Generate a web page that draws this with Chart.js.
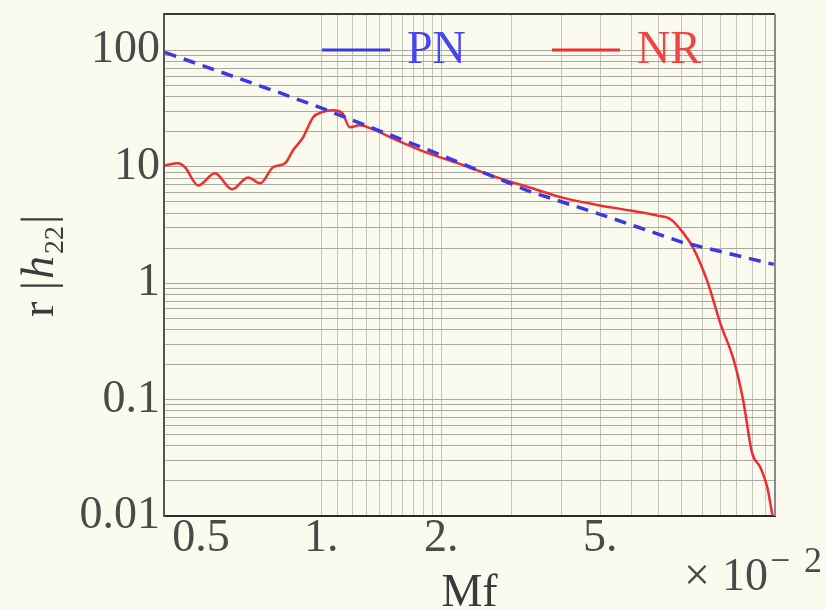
<!DOCTYPE html>
<html lang="en">
<head>
    <meta charset="UTF-8">
    <title>r |h22| vs Mf</title>
    <script src="https://cdn.jsdelivr.net/npm/chart.js"></script>
    <style>
        * {
            margin: 0;
            padding: 0;
            box-sizing: border-box;
        }

        body {
            background-color: #fbfaef;
            width: 827px;
            height: 610px;
            overflow: hidden;
        }

        #chart-container {
            position: relative;
            width: 827px;
            height: 610px;
        }
    </style>
</head>
<body>
    <div id="chart-container">
        <canvas id="ampChart"></canvas>
    </div>

    <script>
        // Mf in units of 1e-2
        const pnX = [0.406, 0.79, 1.0, 1.9, 3.3, 5.0, 8.0, 13.6];
        const pnY = [96, 43, 32, 13.5, 6.2, 3.9, 2.25, 1.45];

        const nrX = [0.406, 0.438, 0.456, 0.492, 0.542, 0.598, 0.656, 0.703, 0.758, 0.812,
                     0.851, 0.901, 0.955, 1.005, 1.07, 1.13, 1.18, 1.25, 1.33, 1.49,
                     1.77, 2.27, 2.76, 3.34, 4.04, 4.92, 5.95, 6.95, 7.5, 8.08,
                     8.55, 9.27, 10.0, 10.8, 11.4, 12.0, 12.6, 13.1, 13.5];
        const nrY = [10.3, 10.7, 9.9, 6.9, 8.8, 6.4, 8.1, 7.2, 9.9, 10.7,
                     13.9, 17.9, 26.6, 29.4, 30.5, 28.8, 21.8, 22.7, 21.4, 17.9,
                     13.9, 10.3, 8.1, 6.6, 5.4, 4.7, 4.2, 3.8, 3.54, 2.69,
                     2.0, 1.04, 0.45, 0.218, 0.099, 0.035, 0.026, 0.0177, 0.0101];

        // axis ticks / grid
        const xTickValues = [0.5, 1, 1.1, 1.2, 1.3, 1.4, 1.5, 1.6, 1.7, 1.8, 1.9, 2, 3, 4, 5, 6, 7, 8, 9, 10, 11, 12, 13];
        const xTickLabels = { '0.5': '0.5', '1': '1.', '2': '2.', '5': '5.' };
        const xNoGrid = [0.5];

        const yDecades = [0.01, 0.1, 1, 10, 100];
        const yDecadeLabels = ['0.01', '0.1', '1', '10', '100'];
        const yMinorSteps = [2, 3, 4, 5, 6, 7, 8, 9];

        const yTickValues = [];
        yDecades.forEach((d, i) => {
            yTickValues.push(d);
            if (i < yDecades.length - 1) {
                yMinorSteps.forEach(m => yTickValues.push(d * m));
            }
        });

        function yLabel(v) {
            const i = yDecades.findIndex(d => Math.abs(v - d) < d * 1e-6);
            return i >= 0 ? yDecadeLabels[i] : '';
        }

        const serif = '"Liberation Serif", "Times New Roman", serif';
        const labelColor = '#4a4a4a';

        // frame, legend and axis titles (Mathematica style)
        const decorPlugin = {
            id: 'decor',
            afterDraw(chart) {
                const { ctx, chartArea: a } = chart;
                ctx.save();

                // top and right frame
                ctx.lineWidth = 2;
                ctx.strokeStyle = '#3a3a3a';
                ctx.beginPath();
                ctx.moveTo(a.left, a.top);
                ctx.lineTo(a.right, a.top);
                ctx.stroke();
                ctx.strokeStyle = '#8a8a8a';
                ctx.beginPath();
                ctx.moveTo(a.right, a.top);
                ctx.lineTo(a.right, a.bottom);
                ctx.stroke();

                // legend inside the plot
                const items = [
                    { ds: 0, x: 322, text: '#4646ee' },
                    { ds: 1, x: 552, text: '#f04545' }
                ];
                items.forEach(it => {
                    const ds = chart.data.datasets[it.ds];
                    ctx.strokeStyle = ds.borderColor;
                    ctx.lineWidth = 3;
                    ctx.setLineDash([]);
                    ctx.beginPath();
                    ctx.moveTo(it.x, 50);
                    ctx.lineTo(it.x + 68, 50);
                    ctx.stroke();
                    ctx.fillStyle = it.text;
                    ctx.font = '46px ' + serif;
                    ctx.textAlign = 'left';
                    ctx.textBaseline = 'alphabetic';
                    ctx.fillText(ds.label, it.x + 85, 63);
                });

                // x title
                ctx.fillStyle = '#3a3a3a';
                ctx.font = '46px ' + serif;
                ctx.textAlign = 'center';
                ctx.fillText('Mf', (a.left + a.right) / 2, 606);

                // x multiplier  x10^-2
                ctx.fillStyle = labelColor;
                ctx.textAlign = 'left';
                ctx.font = '46px ' + serif;
                ctx.fillText('\u00d7', 684, 590);
                ctx.fillText('10', 722, 590);
                ctx.font = '36px ' + serif;
                ctx.fillText('\u2212', 770, 572);
                ctx.fillText('2', 804, 572);

                // y title: r |h22|
                const parts = [
                    { t: 'r |', f: '46px ' + serif, dy: 0 },
                    { t: 'h', f: 'italic 46px ' + serif, dy: 0 },
                    { t: '22', f: '28px ' + serif, dy: 10 },
                    { t: '|', f: '46px ' + serif, dy: 0 }
                ];
                let total = 0;
                parts.forEach(p => { ctx.font = p.f; p.w = ctx.measureText(p.t).width; total += p.w + 2; });
                ctx.translate(53, (a.top + a.bottom) / 2);
                ctx.rotate(-Math.PI / 2);
                ctx.fillStyle = '#3a3a3a';
                let x = -total / 2;
                parts.forEach(p => {
                    ctx.font = p.f;
                    ctx.fillText(p.t, x, p.dy);
                    x += p.w + 2;
                });

                ctx.restore();
            }
        };

        const ctx = document.getElementById('ampChart').getContext('2d');
        const ampChart = new Chart(ctx, {
            type: 'line',
            data: {
                datasets: [
                    {
                        label: 'PN',
                        data: pnX.map((x, i) => ({ x: x, y: pnY[i] })),
                        borderColor: '#3a3ae4',
                        borderWidth: 3.5,
                        borderDash: [12, 8],
                        pointRadius: 0,
                        fill: false,
                    },
                    {
                        label: 'NR',
                        data: nrX.map((x, i) => ({ x: x, y: nrY[i] })),
                        borderColor: '#ee2e2e',
                        borderWidth: 2.5,
                        cubicInterpolationMode: 'monotone',
                        pointRadius: 0,
                        fill: false,
                    },
                ],
            },
            options: {
                responsive: true,
                maintainAspectRatio: false,
                animation: false,
                layout: { padding: { top: 14, right: 52, left: 0, bottom: 0 } },
                plugins: {
                    legend: { display: false },
                    tooltip: { enabled: false },
                },
                scales: {
                    x: {
                        type: 'logarithmic',
                        min: 0.404,
                        max: 13.7,
                        afterBuildTicks: (s) => { s.ticks = xTickValues.map(v => ({ value: v })); },
                        afterFit: (s) => { s.height = 94; },
                        grid: {
                            drawTicks: false,
                            lineWidth: 1,
                            color: (c) => (c.tick && xNoGrid.includes(c.tick.value)) ? 'rgba(0,0,0,0)' : '#c4c4bb',
                        },
                        border: { color: '#2a2a2a', width: 2 },
                        ticks: {
                            autoSkip: false,
                            maxRotation: 0,
                            minRotation: 0,
                            padding: 0,
                            color: labelColor,
                            font: { family: serif, size: 46, lineHeight: 1 },
                            callback: (v) => xTickLabels[v] ?? '',
                        },
                    },
                    y: {
                        type: 'logarithmic',
                        min: 0.01,
                        max: 205,
                        afterBuildTicks: (s) => { s.ticks = yTickValues.map(v => ({ value: v })); },
                        afterFit: (s) => { s.width = 164; },
                        grid: {
                            drawTicks: false,
                            lineWidth: 1,
                            color: '#a9a9a1',
                        },
                        border: { color: '#555555', width: 2 },
                        ticks: {
                            autoSkip: false,
                            padding: 4,
                            color: labelColor,
                            font: { family: serif, size: 46, lineHeight: 0.4 },
                            callback: (v) => yLabel(v),
                        },
                    },
                },
            },
            plugins: [decorPlugin],
        });
    </script>
</body>
</html>
